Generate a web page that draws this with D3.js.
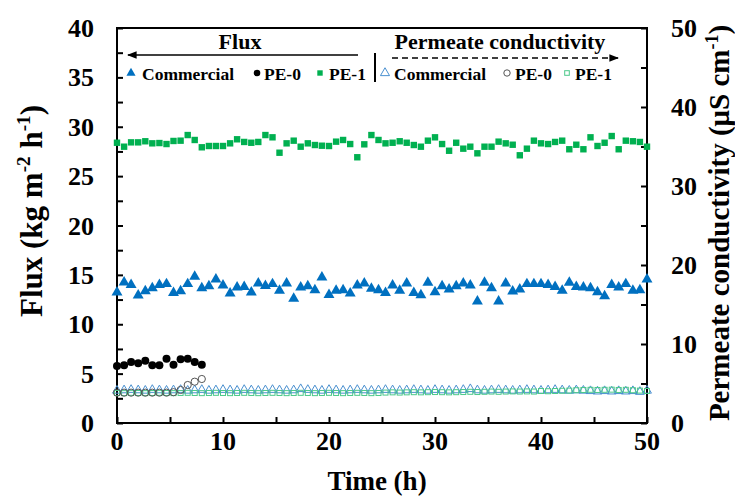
<!DOCTYPE html>
<html>
<head>
<meta charset="utf-8">
<script src="https://cdn.jsdelivr.net/npm/d3@7"></script>
<style>
  html, body { margin: 0; padding: 0; background: #fff; }
  svg { display: block; font-family: "Liberation Serif", "Times New Roman", serif; font-weight: bold; }
</style>
</head>
<body>
<svg id="chart" width="735" height="497"></svg>
<script>
// Sampling times (h), one reading every 40 min
const timeH = [0, 0.67, 1.33, 2, 2.67, 3.33, 4, 4.67, 5.33, 6, 6.67, 7.33, 8, 8.67, 9.33, 10,
  10.67, 11.33, 12, 12.67, 13.33, 14, 14.67, 15.33, 16, 16.67, 17.33, 18, 18.67, 19.33, 20,
  20.67, 21.33, 22, 22.67, 23.33, 24, 24.67, 25.33, 26, 26.67, 27.33, 28, 28.67, 29.33, 30,
  30.67, 31.33, 32, 32.67, 33.33, 34, 34.67, 35.33, 36, 36.67, 37.33, 38, 38.67, 39.33, 40,
  40.67, 41.33, 42, 42.67, 43.33, 44, 44.67, 45.33, 46, 46.67, 47.33, 48, 48.67, 49.33, 50];

// Flux (kg m-2 h-1)
const fluxCommercial = [13.24, 14.25, 14.0, 12.93, 13.37, 13.67, 14.0, 14.08, 13.19, 13.37, 14.08, 14.82,
  13.67, 13.87, 14.55, 13.94, 13.13, 13.74, 13.80, 13.24, 14.15, 13.90, 14.08, 13.40, 14.15, 12.59,
  13.74, 13.87, 13.47, 14.75, 12.99, 13.40, 13.47, 13.13, 13.94, 14.15, 13.60, 13.47, 13.19, 13.94,
  13.40, 14.15, 13.19, 12.96, 14.21, 13.26, 13.87, 13.54, 13.87, 14.15, 13.94, 12.32, 14.21, 13.67,
  12.32, 14.15, 13.34, 13.54, 14.08, 14.08, 14.08, 14.0, 13.80, 13.40, 14.21, 13.80, 13.74, 13.67,
  13.26, 12.86, 14.0, 13.74, 14.08, 13.40, 13.47, 14.55];
const fluxPE0 = [5.77, 5.84, 6.18, 6.04, 6.31, 5.84, 5.84, 6.51, 5.90, 6.45, 6.51, 6.18, 5.90];
const fluxPE1 = [28.38, 27.98, 28.42, 28.42, 28.53, 28.32, 28.35, 28.25, 28.56, 28.59, 29.16, 28.66,
  27.92, 28.05, 28.05, 28.05, 28.32, 28.73, 28.46, 28.38, 28.46, 29.16, 28.93, 27.37, 28.32, 28.59,
  27.98, 28.32, 28.15, 28.08, 28.05, 28.49, 28.66, 28.25, 26.91, 28.22, 29.16, 28.66, 28.32, 28.38,
  28.53, 28.38, 28.15, 27.98, 28.59, 28.93, 28.25, 27.57, 28.38, 27.78, 27.98, 27.31, 27.98, 27.98,
  28.49, 28.32, 28.18, 27.11, 27.78, 28.59, 28.32, 28.25, 28.46, 28.59, 27.72, 28.18, 27.72, 28.93,
  28.05, 28.38, 29.06, 27.72, 28.59, 28.53, 28.46, 27.98];

// Permeate conductivity (μS cm-1)
const condCommercial = [4.10, 4.15, 4.20, 4.15, 4.10, 4.20, 4.15, 4.10, 4.15, 4.20, 4.10, 4.15, 4.20,
  4.10, 4.15, 4.20, 4.15, 4.10, 4.20, 4.15, 4.10, 4.15, 4.20, 4.15, 4.10, 4.15, 4.30, 4.20, 4.15,
  4.10, 4.20, 4.15, 4.10, 4.15, 4.20, 4.15, 4.10, 4.15, 4.20, 4.15, 4.10, 4.15, 4.20, 4.15, 4.10,
  4.20, 4.15, 4.10, 4.15, 4.20, 4.30, 4.15, 4.10, 4.15, 4.20, 4.15, 4.10, 4.15, 4.20, 4.15, 4.10,
  4.15, 4.20, 4.15, 4.10, 4.15, 4.10, 4.05, 4.00, 4.05, 4.00, 4.05, 4.00, 4.05, 3.95, 4.10];
const condPE0 = [3.84, 3.84, 3.84, 3.84, 3.84, 3.84, 3.84, 3.84, 3.90, 4.18, 4.81, 5.23, 5.57];
const condPE1 = [3.80, 3.78, 3.82, 3.80, 3.78, 3.80, 3.82, 3.80, 3.78, 3.80, 3.82, 3.80, 3.78,
  3.80, 3.82, 3.80, 3.78, 3.80, 3.82, 3.80, 3.78, 3.80, 3.82, 3.80, 3.78, 3.80, 3.82, 3.80, 3.78,
  3.80, 3.82, 3.80, 3.78, 3.80, 3.82, 3.80, 3.78, 3.80, 3.85, 3.88, 3.85, 3.88, 3.90, 3.88, 3.90,
  3.92, 3.90, 3.88, 3.90, 3.92, 3.95, 3.92, 3.95, 3.98, 3.95, 3.98, 4.00, 3.98, 4.00, 3.98, 4.05,
  4.02, 4.05, 4.08, 4.10, 4.15, 4.18, 4.20, 4.18, 4.20, 4.22, 4.18, 4.20, 4.15, 4.10, 4.05];

// Axis ticks
const xTicks = [0, 10, 20, 30, 40, 50];
const fluxTicks = [0, 5, 10, 15, 20, 25, 30, 35, 40];
const condTicks = [0, 10, 20, 30, 40, 50];

const BLUE = "#0070C0", GREEN = "#00B050";
const BLUE_OPEN = "#4A90D0", GREEN_OPEN = "#4CC98A", GRAY_OPEN = "#555";

const svg = d3.select("#chart");
const m = { left: 117, right: 647, top: 28, bottom: 423 };

const x = d3.scaleLinear().domain([0, 50]).range([m.left, m.right]);
const yL = d3.scaleLinear().domain([0, 40]).range([m.bottom, m.top]);
const yR = d3.scaleLinear().domain([0, 50]).range([m.bottom, m.top]);

// Axes: ticks point inward, labels drawn separately for size control
const tickFont = 26;
const axL = d3.axisLeft(yL).tickValues(d3.range(0, 40.01, 2.5)).tickSizeInner(-6).tickSizeOuter(0).tickFormat("");
const axR = d3.axisRight(yR).tickValues(d3.range(0, 50.01, 5)).tickSizeInner(-6).tickSizeOuter(0).tickFormat("");
const axB = d3.axisBottom(x).tickValues(d3.range(0, 50.01, 5)).tickSizeInner(-6).tickSizeOuter(0).tickFormat("");

function styleAxis(g) {
  g.select(".domain").remove();
  g.selectAll(".tick line").attr("stroke", "#000").attr("stroke-width", 2);
}
svg.append("g").attr("transform", `translate(${m.left},0)`).call(axL).call(styleAxis);
svg.append("g").attr("transform", `translate(${m.right},0)`).call(axR).call(styleAxis);
svg.append("g").attr("transform", `translate(0,${m.bottom})`).call(axB).call(styleAxis);

// Plot frame
svg.append("rect")
  .attr("x", m.left).attr("y", m.top)
  .attr("width", m.right - m.left).attr("height", m.bottom - m.top)
  .attr("fill", "none").attr("stroke", "#000").attr("stroke-width", 2);

// Tick labels
svg.append("g").selectAll("text").data(fluxTicks).join("text")
  .attr("x", m.left - 23).attr("y", d => yL(d)).attr("dy", "0.35em")
  .attr("text-anchor", "end").attr("font-size", tickFont).text(d => d);
svg.append("g").selectAll("text").data(condTicks).join("text")
  .attr("x", m.right + 24).attr("y", d => yR(d)).attr("dy", "0.35em")
  .attr("text-anchor", "start").attr("font-size", tickFont).text(d => d);
svg.append("g").selectAll("text").data(xTicks).join("text")
  .attr("x", d => x(d)).attr("y", m.bottom + 27)
  .attr("text-anchor", "middle").attr("font-size", tickFont).text(d => d);

// Axis titles
svg.append("text").attr("x", 377).attr("y", 490).attr("text-anchor", "middle")
  .attr("font-size", 27).text("Time (h)");

// Title with superscripts; the baseline is restored on the tspan after each superscript
function supTitle(sel, size, parts) {
  const raise = size * 0.38;
  let shifted = false;
  parts.forEach(p => {
    const ts = sel.append("tspan").text(p.t);
    if (p.sup) {
      ts.attr("font-size", size * 0.62).attr("dy", -raise);
      shifted = true;
    } else if (shifted) {
      ts.attr("dy", raise);
      shifted = false;
    }
  });
}
const tl = svg.append("text").attr("transform", "translate(42,211) rotate(-90)")
  .attr("text-anchor", "middle").attr("font-size", 31);
supTitle(tl, 31, [{ t: "Flux (kg m" }, { t: "-2", sup: true }, { t: " h" }, { t: "-1", sup: true }, { t: ")" }]);
const tr = svg.append("text").attr("transform", "translate(729,223) rotate(-90)")
  .attr("text-anchor", "middle").attr("font-size", 29);
supTitle(tr, 29, [{ t: "Permeate conductivity (\u03bcS cm" }, { t: "-1", sup: true }, { t: ")" }]);

// Marker shapes
const triFilled = d3.symbol().type(d3.symbolTriangle).size(52);
const triOpen = d3.symbol().type(d3.symbolTriangle).size(34);

// Open markers (conductivity, right axis)
const gOpen = svg.append("g");
gOpen.selectAll("path.ct").data(condCommercial).join("path").attr("class", "ct")
  .attr("d", triOpen).attr("transform", (d, i) => `translate(${x(timeH[i])},${yR(d)})`)
  .attr("fill", "none").attr("stroke", BLUE_OPEN).attr("stroke-width", 1);
gOpen.selectAll("rect.cs").data(condPE1).join("rect").attr("class", "cs")
  .attr("x", (d, i) => x(timeH[i]) - 2.5).attr("y", d => yR(d) - 2.5)
  .attr("width", 5).attr("height", 5)
  .attr("fill", "none").attr("stroke", GREEN_OPEN).attr("stroke-width", 1);
gOpen.selectAll("circle.cc").data(condPE0).join("circle").attr("class", "cc")
  .attr("cx", (d, i) => x(timeH[i])).attr("cy", d => yR(d)).attr("r", 3.6)
  .attr("fill", "none").attr("stroke", GRAY_OPEN).attr("stroke-width", 1);

// Filled markers (flux, left axis)
svg.append("g").selectAll("path").data(fluxCommercial).join("path")
  .attr("d", triFilled).attr("transform", (d, i) => `translate(${x(timeH[i])},${yL(d)})`)
  .attr("fill", BLUE);
svg.append("g").selectAll("rect").data(fluxPE1).join("rect")
  .attr("x", (d, i) => x(timeH[i]) - 3.2).attr("y", d => yL(d) - 3.2)
  .attr("width", 6.4).attr("height", 6.4).attr("fill", GREEN);
svg.append("g").selectAll("circle").data(fluxPE0).join("circle")
  .attr("cx", (d, i) => x(timeH[i])).attr("cy", d => yL(d)).attr("r", 4)
  .attr("fill", "#000");

// Legend
const lg = svg.append("g");
const defs = svg.append("defs");
defs.append("marker").attr("id", "arrowHead").attr("viewBox", "0 0 10 10").attr("refX", 9).attr("refY", 5)
  .attr("markerWidth", 6).attr("markerHeight", 6).attr("orient", "auto")
  .append("path").attr("d", "M0,1 L10,5 L0,9 Z").attr("fill", "#000");

lg.append("text").attr("x", 240).attr("y", 49).attr("text-anchor", "middle").attr("font-size", 22).text("Flux");
lg.append("line").attr("x1", 358).attr("y1", 55).attr("x2", 128).attr("y2", 55)
  .attr("stroke", "#000").attr("stroke-width", 1.6).attr("marker-end", "url(#arrowHead)");
lg.append("text").attr("x", 500).attr("y", 49).attr("text-anchor", "middle").attr("font-size", 22).text("Permeate conductivity");
lg.append("line").attr("x1", 392).attr("y1", 58).attr("x2", 618).attr("y2", 58)
  .attr("stroke", "#000").attr("stroke-width", 1.6).attr("stroke-dasharray", "6,4").attr("marker-end", "url(#arrowHead)");
lg.append("line").attr("x1", 375).attr("y1", 53).attr("x2", 375).attr("y2", 82)
  .attr("stroke", "#000").attr("stroke-width", 2);

const legY = 74, legFont = 17.5;
const legendItems = [
  { mk: "triF", mx: 131, tx: 142, label: "Commercial" },
  { mk: "cirF", mx: 257, tx: 264, label: "PE-0" },
  { mk: "sqF", mx: 320, tx: 329, label: "PE-1" },
  { mk: "triO", mx: 385, tx: 394, label: "Commercial" },
  { mk: "cirO", mx: 507, tx: 515, label: "PE-0" },
  { mk: "sqO", mx: 567, tx: 575, label: "PE-1" }
];
legendItems.forEach(it => {
  if (it.mk === "triF") lg.append("path").attr("d", d3.symbol().type(d3.symbolTriangle).size(36)).attr("transform", `translate(${it.mx},${legY - 1})`).attr("fill", BLUE);
  if (it.mk === "cirF") lg.append("circle").attr("cx", it.mx).attr("cy", legY - 1).attr("r", 3.3).attr("fill", "#000");
  if (it.mk === "sqF") lg.append("rect").attr("x", it.mx - 2.7).attr("y", legY - 3.7).attr("width", 5.4).attr("height", 5.4).attr("fill", GREEN);
  if (it.mk === "triO") lg.append("path").attr("d", d3.symbol().type(d3.symbolTriangle).size(36)).attr("transform", `translate(${it.mx},${legY - 1})`).attr("fill", "none").attr("stroke", BLUE_OPEN).attr("stroke-width", 1);
  if (it.mk === "cirO") lg.append("circle").attr("cx", it.mx).attr("cy", legY - 1).attr("r", 3.2).attr("fill", "none").attr("stroke", GRAY_OPEN).attr("stroke-width", 1);
  if (it.mk === "sqO") lg.append("rect").attr("x", it.mx - 2.3).attr("y", legY - 3.3).attr("width", 4.6).attr("height", 4.6).attr("fill", "none").attr("stroke", GREEN_OPEN).attr("stroke-width", 1);
  lg.append("text").attr("x", it.tx).attr("y", legY + 6).attr("font-size", legFont).text(it.label);
});
</script>
</body>
</html>
